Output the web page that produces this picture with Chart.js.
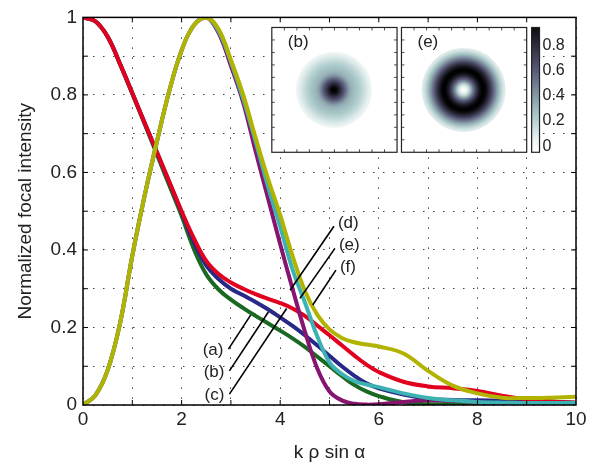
<!DOCTYPE html>
<html>
<head>
<meta charset="utf-8">
<script src="https://cdn.jsdelivr.net/npm/chart.js@4.4.1/dist/chart.umd.min.js"></script>
<style>
  html, body { margin: 0; padding: 0; background: #fff; }
  #wrap { width: 608px; height: 465px; }
</style>
</head>
<body>
<div id="wrap"><canvas id="myChart" width="608" height="465"></canvas></div>
<script>
// x-Werte: k rho sin alpha
const kValues = [0, 0.25, 0.5, 0.75, 1, 1.25, 1.5, 1.75, 2, 2.25, 2.5, 2.75, 3, 3.25, 3.5, 3.75,
                 4, 4.25, 4.5, 4.75, 5, 5.25, 5.5, 5.75, 6, 6.5, 7, 7.5, 8, 8.5, 9, 9.5, 10];

// (a) (b) (c): maximum on axis
const curveA = [1, 0.99, 0.95, 0.88, 0.803, 0.725, 0.646, 0.567, 0.488,
                0.402, 0.337, 0.298, 0.272, 0.25, 0.23, 0.211, 0.192, 0.172, 0.15, 0.125, 0.1, 0.075, 0.052, 0.035, 0.023,
                0.007, 0.002, 0.003, 0.006, 0.01, 0.011, 0.009, 0.005];
const curveB = [1, 0.99, 0.95, 0.88, 0.805, 0.728, 0.652, 0.575, 0.497,
                0.42, 0.36, 0.325, 0.3, 0.283, 0.266, 0.247, 0.226, 0.204, 0.18, 0.154, 0.127, 0.1, 0.076, 0.056, 0.043,
                0.027, 0.016, 0.013, 0.012, 0.011, 0.009, 0.007, 0.005];
const curveC = [1, 0.99, 0.95, 0.88, 0.805, 0.728, 0.652, 0.576, 0.5,
                0.43, 0.372, 0.338, 0.316, 0.3, 0.286, 0.274, 0.263, 0.249, 0.23, 0.205, 0.18, 0.154, 0.128, 0.104, 0.085,
                0.06, 0.048, 0.043, 0.036, 0.024, 0.015, 0.009, 0.006];

// (d) (e) (f): ring shaped focus
const curveD = [0, 0.025, 0.09, 0.21, 0.385, 0.54, 0.68, 0.81, 0.915, 0.98, 1,
                0.96, 0.875, 0.78, 0.655, 0.535, 0.415, 0.3, 0.19, 0.095, 0.035, 0.012, 0.003, 0.001, 0.002,
                0.008, 0.012, 0.011, 0.007, 0.004, 0.004, 0.005, 0.006];
const curveE = [0, 0.025, 0.09, 0.21, 0.385, 0.54, 0.68, 0.81, 0.915, 0.98, 1,
                0.965, 0.885, 0.79, 0.68, 0.565, 0.46, 0.35, 0.265, 0.178, 0.11, 0.08, 0.062, 0.053, 0.046,
                0.03, 0.018, 0.012, 0.008, 0.006, 0.005, 0.005, 0.005];
const curveF = [0, 0.025, 0.09, 0.21, 0.385, 0.54, 0.68, 0.81, 0.915, 0.98, 1,
                0.97, 0.89, 0.8, 0.69, 0.585, 0.49, 0.385, 0.295, 0.233, 0.195, 0.173, 0.162, 0.156, 0.151,
                0.133, 0.088, 0.05, 0.03, 0.019, 0.018, 0.019, 0.021];

const colorbarTicks = [0, 0.2, 0.4, 0.6, 0.8];

// Beschriftungen mit Hinweislinien
const leaders = [
    { text: '(a)', from: [2.95, 0.144], to: [3.40, 0.232], side: 'left' },
    { text: '(b)', from: [2.97, 0.088], to: [3.76, 0.240], side: 'left' },
    { text: '(c)', from: [2.97, 0.028], to: [4.13, 0.249], side: 'left' },
    { text: '(d)', from: [4.20, 0.296], to: [5.09, 0.461], side: 'right' },
    { text: '(e)', from: [4.40, 0.275], to: [5.11, 0.404], side: 'right' },
    { text: '(f)', from: [4.66, 0.258], to: [5.13, 0.348], side: 'right' }
];

function toPoints(values) {
    return kValues.map((k, i) => ({ x: k, y: values[i] }));
}

// umgekehrte "bone" Farbtabelle
function boneR(v) {
    const t = 1 - Math.min(1, Math.max(0, v));
    const cl = z => Math.min(1, Math.max(0, z));
    const hr = cl(t / 0.375), hg = cl((t - 0.375) / 0.375), hb = cl((t - 0.75) / 0.25);
    const r = (7 * t + hb) / 8, g = (7 * t + hg) / 8, b = (7 * t + hr) / 8;
    return `rgb(${Math.round(r * 255)},${Math.round(g * 255)},${Math.round(b * 255)})`;
}

const insets = [
    { label: '(b)', values: curveB, x0: 3.83, x1: 6.37, radius: 38, kMax: 6.0 },
    { label: '(e)', values: curveE, x0: 6.46, x1: 9.00, radius: 42, kMax: 5.25 }
];
const insetTop = 0.974, insetBottom = 0.652;

const overlay = {
    id: 'overlay',
    afterDatasetsDraw(chart) {
        const { ctx, chartArea: a, scales: { x, y } } = chart;
        const line = (x1, y1, x2, y2) => { ctx.beginPath(); ctx.moveTo(x1, y1); ctx.lineTo(x2, y2); ctx.stroke(); };
        ctx.save();
        ctx.strokeStyle = '#000';

        // Rahmen und Ticks nach innen
        ctx.lineWidth = 1.5;
        ctx.strokeRect(a.left, a.top, a.right - a.left, a.bottom - a.top);
        ctx.lineWidth = 1;
        for (let k = 1; k < 10; k++) {
            const px = x.getPixelForValue(k);
            line(px, a.bottom, px, a.bottom - 5);
            line(px, a.top, px, a.top + 5);
        }
        for (let i = 1; i < 10; i++) {
            const py = y.getPixelForValue(i / 10);
            line(a.left, py, a.left + 5, py);
            line(a.right, py, a.right - 5, py);
        }

        // Hinweislinien
        ctx.lineWidth = 1.6;
        ctx.fillStyle = '#222';
        ctx.font = '17px "Liberation Sans", Arial, sans-serif';
        ctx.textBaseline = 'middle';
        leaders.forEach(l => {
            const x1 = x.getPixelForValue(l.from[0]), y1 = y.getPixelForValue(l.from[1]);
            const x2 = x.getPixelForValue(l.to[0]), y2 = y.getPixelForValue(l.to[1]);
            line(x1, y1, x2, y2);
            if (l.side === 'left') {
                ctx.textAlign = 'right';
                ctx.fillText(l.text, x1 - 5, y1 + 1);
            } else {
                ctx.textAlign = 'left';
                ctx.fillText(l.text, x2 + 4, y2 - 3);
            }
        });

        // Inset-Bilder
        const top = y.getPixelForValue(insetTop), bottom = y.getPixelForValue(insetBottom);
        insets.forEach(ins => {
            const left = x.getPixelForValue(ins.x0), right = x.getPixelForValue(ins.x1);
            const w = right - left, h = bottom - top;
            ctx.fillStyle = '#fff';
            ctx.fillRect(left, top, w, h);
            const cx = left + w / 2 - 0.5, cy = top + h / 2;
            const grad = ctx.createRadialGradient(cx, cy, 0, cx, cy, ins.radius);
            kValues.forEach((k, i) => {
                if (k <= ins.kMax) grad.addColorStop(k / ins.kMax, boneR(ins.values[i]));
            });
            ctx.fillStyle = grad;
            ctx.beginPath();
            ctx.arc(cx, cy, ins.radius, 0, Math.PI * 2);
            ctx.fill();
            ctx.lineWidth = 1.2;
            ctx.strokeStyle = '#222';
            ctx.strokeRect(left, top, w, h);
            ctx.lineWidth = 0.8;
            for (let i = 1; i < 10; i++) {
                const tx = left + w * i / 10, ty = top + h * i / 10;
                line(tx, top, tx, top + 3);
                line(tx, bottom, tx, bottom - 3);
                line(left, ty, left + 3, ty);
                line(right, ty, right - 3, ty);
            }
            ctx.fillStyle = '#222';
            ctx.font = '17px "Liberation Sans", Arial, sans-serif';
            ctx.textAlign = 'left';
            ctx.fillText(ins.label, left + 16, top + 15);
        });

        // Farbskala
        const cbLeft = x.getPixelForValue(9.10), cbRight = x.getPixelForValue(9.26);
        const v0 = bottom - 6, vStep = 126.25; // Pixel je Einheit
        const cbGrad = ctx.createLinearGradient(0, bottom, 0, top);
        const vBottom = (v0 - bottom) / vStep, vTop = (v0 - top) / vStep;
        for (let s = 0; s <= 10; s++) {
            const v = vBottom + (vTop - vBottom) * s / 10;
            cbGrad.addColorStop(s / 10, boneR(v));
        }
        ctx.fillStyle = cbGrad;
        ctx.fillRect(cbLeft, top, cbRight - cbLeft, bottom - top);
        ctx.lineWidth = 1.2;
        ctx.strokeStyle = '#222';
        ctx.strokeRect(cbLeft, top, cbRight - cbLeft, bottom - top);
        ctx.fillStyle = '#222';
        ctx.font = '16px "Liberation Sans", Arial, sans-serif';
        ctx.textAlign = 'left';
        colorbarTicks.forEach(v => {
            ctx.fillText(String(v), cbRight + 3, v0 - v * vStep);
        });
        ctx.restore();
    }
};

const ctx = document.getElementById('myChart').getContext('2d');
const myChart = new Chart(ctx, {
    type: 'line',
    data: {
        datasets: [
            { label: '(f)', data: toPoints(curveF), borderColor: 'rgb(178,178,0)' },
            { label: '(e)', data: toPoints(curveE), borderColor: 'rgb(60,178,178)' },
            { label: '(d)', data: toPoints(curveD), borderColor: 'rgb(135,20,110)' },
            { label: '(c)', data: toPoints(curveC), borderColor: 'rgb(225,0,30)' },
            { label: '(b)', data: toPoints(curveB), borderColor: 'rgb(40,40,135)' },
            { label: '(a)', data: toPoints(curveA), borderColor: 'rgb(25,105,35)' }
        ]
    },
    options: {
        responsive: false,
        animation: false,
        devicePixelRatio: 1,
        layout: { padding: { top: 17, right: 32, left: 0, bottom: 0 } },
        elements: {
            line: { borderWidth: 4, fill: false, tension: 0.4, capBezierPoints: true },
            point: { radius: 0 }
        },
        scales: {
            x: {
                type: 'linear',
                position: 'bottom',
                min: 0,
                max: 10,
                afterFit: s => { s.height = 60; },
                grid: { color: 'rgba(0,0,0,0.75)', lineWidth: 1, drawTicks: false },
                border: { display: false, dash: [1.5, 8.5] },
                ticks: {
                    stepSize: 1,
                    autoSkip: false,
                    maxRotation: 0,
                    padding: 3,
                    color: '#222',
                    font: { family: '"Liberation Sans", Arial, sans-serif', size: 19 },
                    callback: v => (Math.round(v) % 2 === 0 ? String(Math.round(v)) : '')
                },
                title: {
                    display: true,
                    text: 'k ρ sin α',
                    color: '#222',
                    padding: { top: 0, bottom: 1 },
                    font: { family: '"Liberation Sans", Arial, sans-serif', size: 19 }
                }
            },
            y: {
                min: 0,
                max: 1,
                afterFit: s => { s.width = 83; },
                grid: { color: 'rgba(0,0,0,0.75)', lineWidth: 1, drawTicks: false },
                border: { display: false, dash: [1.5, 8.5] },
                ticks: {
                    stepSize: 0.1,
                    autoSkip: false,
                    padding: 6,
                    color: '#222',
                    font: { family: '"Liberation Sans", Arial, sans-serif', size: 19 },
                    callback: v => {
                        const n = Math.round(v * 10);
                        return n % 2 === 0 ? String(n / 10) : '';
                    }
                },
                title: {
                    display: true,
                    text: 'Normalized focal intensity',
                    color: '#222',
                    padding: { top: 14, bottom: 0 },
                    font: { family: '"Liberation Sans", Arial, sans-serif', size: 19 }
                }
            }
        },
        plugins: {
            legend: { display: false },
            tooltip: { enabled: false }
        }
    },
    plugins: [overlay]
});
</script>
</body>
</html>
